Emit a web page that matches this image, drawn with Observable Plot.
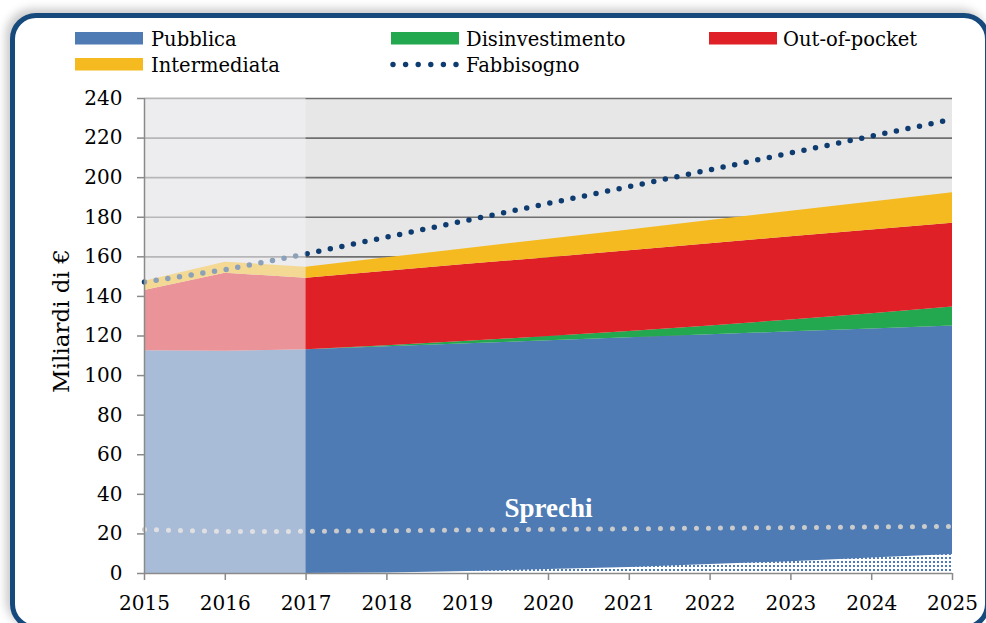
<!DOCTYPE html>
<html>
<head>
<meta charset="utf-8">
<script src="https://cdn.jsdelivr.net/npm/d3@7"></script>
<script src="https://cdn.jsdelivr.net/npm/@observablehq/plot@0.6"></script>
<style>
  html, body { margin: 0; padding: 0; background: #fff; }
  body { width: 986px; height: 623px; overflow: hidden; position: relative; font-family: "DejaVu Serif", serif; }
  #cornice { position: absolute; left: 10px; top: 13px; width: 980px; height: 617px; box-sizing: border-box;
    border: 5px solid #164a7d; border-radius: 26px; background: #fff;
    box-shadow: -4px -4px 10px rgba(0,0,0,0.22); }
  #grafico { position: absolute; left: 0; top: 80px; }
  #annotazioni { position: absolute; left: 0; top: 0; pointer-events: none; }
</style>
</head>
<body>
<div id="cornice"></div>
<div id="grafico"></div>
<svg id="annotazioni" width="986" height="623"></svg>
<script>
// ---------- DATI ----------
const anni = [2015, 2016, 2017, 2018, 2019, 2020, 2021, 2022, 2023, 2024, 2025];
const serie = ["Pubblica", "Disinvestimento", "Out-of-pocket", "Intermediata"];
const colori = ["#4e7bb4", "#23a84f", "#df2027", "#f5ba1f"];
const pubblica        = [112.5, 112.3, 113.1, 114.6, 116.1, 117.6, 119.1, 120.6, 122.1, 123.6, 125.0];
const disinvestimento = [0, 0, 0, 0.5, 1.2, 2.1, 3.2, 4.5, 6.0, 7.7, 9.6];
const outOfPocket     = [30.5, 39.4, 36.1, 37.6, 38.9, 39.9, 40.8, 41.5, 42.0, 42.2, 42.4];
const intermediata    = [4.7, 5.6, 5.6, 6.8, 8.0, 9.3, 10.5, 11.7, 12.9, 14.2, 15.4];
const fabbisogno      = [147.3, 153.5, 161.5, 170.0, 178.5, 187.0, 195.5, 204.0, 212.5, 221.0, 229.5];
const sprechi         = [22.2, 21.2, 21.3, 21.6, 22.0, 22.3, 22.6, 22.9, 23.2, 23.5, 23.8];
const risparmi        = [0, 0, 0, 0.3, 1.0, 2.0, 3.0, 4.5, 6.0, 7.8, 9.6];
const tickY = [0, 20, 40, 60, 80, 100, 120, 140, 160, 180, 200, 220, 240];
const etichettaSprechi = ["Sprechi"];
const annoFineStorico = 2017;
const titoloY = "Miliardi di €";
const voceFabbisogno = "Fabbisogno";

// ---------- TABELLE ----------
const valori = [pubblica, disinvestimento, outOfPocket, intermediata];
const righe = anni.flatMap((a, i) => serie.map((s, j) => ({anno: a, serie: s, valore: valori[j][i]})));
const rigaFab = anni.map((a, i) => ({anno: a, v: fabbisogno[i]}));
const rigaSpr = anni.map((a, i) => ({anno: a, v: sprechi[i]}));
const rigaRis = anni.map((a, i) => ({anno: a, v: risparmi[i]}));
const yMin = tickY[0], yMax = tickY[tickY.length - 1];

const grafico = Plot.plot({
  width: 986, height: 543,
  marginLeft: 144, marginRight: 34, marginTop: 18, marginBottom: 50,
  style: {fontFamily: "DejaVu Serif", fontSize: "20px", color: "#000", background: "transparent", overflow: "visible"},
  x: {domain: [anni[0], anni[anni.length - 1]]},
  y: {domain: [yMin, yMax]},
  color: {domain: serie, range: colori},
  marks: [
    Plot.rect([0], {x1: anni[0], x2: anni[anni.length - 1], y1: yMin, y2: yMax, fill: "#e7e7e7"}),
    Plot.ruleY(tickY.slice(1), {stroke: "#6f6f6f", strokeWidth: 1.6}),
    Plot.areaY(righe, {x: "anno", y: "valore", fill: "serie", order: serie}),
    Plot.areaY(rigaRis, {x: "anno", y: "v", fill: "url(#puntini)"}),
    Plot.line(rigaSpr, {x: "anno", y: "v", stroke: "#cbcbcb", strokeWidth: 5, strokeDasharray: "0 12", strokeLinecap: "round"}),
    Plot.line(rigaFab, {x: "anno", y: "v", stroke: "#0e3c70", strokeWidth: 5.5, strokeDasharray: "0 11.8", strokeLinecap: "round"}),
    Plot.rect([0], {x1: anni[0], x2: annoFineStorico, y1: yMin, y2: yMax, fill: "#f2f3f5", fillOpacity: 0.55}),
    Plot.text(etichettaSprechi, {x: 2020, y: 32.8, text: d => d, fill: "#ffffff", fontWeight: "bold", fontSize: 27, fontFamily: "Liberation Serif"}),
    Plot.ruleX([anni[0]], {stroke: "#8a8a8a", strokeWidth: 1.5}),
    Plot.ruleY([yMin], {stroke: "#8a8a8a", strokeWidth: 1.5}),
    Plot.axisY(tickY, {tickSize: 7, tickPadding: 15, stroke: "#8a8a8a", strokeWidth: 1.5, label: null, fontSize: 20}),
    Plot.axisX(anni, {tickSize: 7, tickPadding: 15, stroke: "#8a8a8a", strokeWidth: 1.5, label: null, fontSize: 20, tickFormat: d => String(d)})
  ]
});
grafico.insertAdjacentHTML("afterbegin",
  '<defs><pattern id="puntini" patternUnits="userSpaceOnUse" width="4" height="4">' +
  '<rect width="4" height="4" fill="#ffffff"/><rect x="1" y="1" width="2" height="2" fill="#4e7bb4"/></pattern></defs>');
document.getElementById("grafico").appendChild(grafico);

// ---------- LEGENDA ----------
const ns = "http://www.w3.org/2000/svg";
const ann = document.getElementById("annotazioni");
function el(tag, attrs, txt) {
  const e = document.createElementNS(ns, tag);
  for (const k in attrs) e.setAttribute(k, attrs[k]);
  if (txt != null) e.textContent = txt;
  ann.appendChild(e);
  return e;
}
const posLegenda = [
  {sx: 75, tx: 151, sy: 32, by: 45.5},
  {sx: 391, tx: 466, sy: 32, by: 45.5},
  {sx: 709, tx: 783, sy: 32, by: 45.5},
  {sx: 75, tx: 151, sy: 58, by: 71.5}
];
serie.forEach((s, i) => {
  const p = posLegenda[i];
  el("rect", {x: p.sx, y: p.sy, width: 68, height: 12.5, fill: colori[i]});
  el("text", {x: p.tx, y: p.by, "font-family": "DejaVu Serif", "font-size": 19.5, fill: "#000"}, s);
});
for (let k = 0; k < 6; k++) el("circle", {cx: 393 + k * 12.6, cy: 64.5, r: 2.7, fill: "#0e3c70"});
el("text", {x: 466, y: 71.5, "font-family": "DejaVu Serif", "font-size": 19.5, fill: "#000"}, voceFabbisogno);
el("text", {transform: "translate(68.5,321) rotate(-90)", "text-anchor": "middle", "font-family": "DejaVu Serif", "font-size": 23, fill: "#000"}, titoloY);
</script>
</body>
</html>
